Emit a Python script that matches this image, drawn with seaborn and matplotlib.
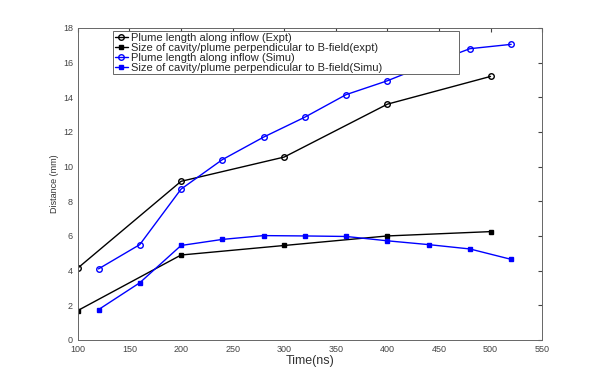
import matplotlib
matplotlib.use("Agg")
import matplotlib.pyplot as plt
import pandas as pd
import seaborn as sns

# experiment
expt_time = [100, 200, 300, 400, 500]
expt_plume = [4.15, 9.15, 10.55, 13.6, 15.2]
expt_cavity = [1.7, 4.9, 5.45, 6.0, 6.25]

# simulation
simu_time = [120, 160, 200, 240, 280, 320, 360, 400, 440, 480, 520]
simu_plume = [4.1, 5.5, 8.7, 10.4, 11.7, 12.85, 14.15, 14.95, 15.9, 16.8, 17.05]
simu_cavity = [1.75, 3.3, 5.45, 5.8, 6.02, 6.0, 5.97, 5.72, 5.5, 5.25, 4.65]

labels = [
    "Plume length along inflow (Expt)",
    "Size of cavity/plume perpendicular to B-field(expt)",
    "Plume length along inflow (Simu)",
    "Size of cavity/plume perpendicular to B-field(Simu)",
]

frames = [
    pd.DataFrame({"time": expt_time, "dist": expt_plume, "series": labels[0]}),
    pd.DataFrame({"time": expt_time, "dist": expt_cavity, "series": labels[1]}),
    pd.DataFrame({"time": simu_time, "dist": simu_plume, "series": labels[2]}),
    pd.DataFrame({"time": simu_time, "dist": simu_cavity, "series": labels[3]}),
]
data = pd.concat(frames, ignore_index=True)

sns.set_style("white")
plt.rcParams["font.family"] = ["Liberation Sans", "DejaVu Sans"]

fig = plt.figure(figsize=(5.99, 3.82), dpi=100)
ax = fig.add_axes([0.130, 0.110, 0.775, 0.817])

styles = {
    labels[0]: ("black", "o", "none"),
    labels[1]: ("black", "s", "black"),
    labels[2]: ("blue", "o", "none"),
    labels[3]: ("blue", "s", "blue"),
}
for name, (color, marker, face) in styles.items():
    sub = data[data["series"] == name]
    sns.lineplot(
        data=sub, x="time", y="dist", ax=ax, color=color, marker=marker,
        markersize=4 if marker == "o" else 3.5, markerfacecolor=face,
        markeredgecolor=color, markeredgewidth=1.0, linewidth=1.0, label=name,
    )

ax.set_xlim(100, 550)
ax.set_ylim(0, 18)
ax.set_xticks(range(100, 551, 50))
ax.set_yticks(range(0, 19, 2))
ax.tick_params(direction="in", length=3, labelsize=6.5, colors="#444444",
               top=True, right=True)
for spine in ax.spines.values():
    spine.set_color("#666666")
    spine.set_linewidth(0.7)
ax.set_xlabel("Time(ns)", fontsize=9, labelpad=1, color="#333333")
ax.set_ylabel("Distance (mm)", fontsize=6.5, labelpad=3, color="#333333")

leg = ax.legend(loc="upper left", bbox_to_anchor=(0.0754, 0.0, 0.746, 0.99),
                mode="expand", fontsize=8, frameon=True, fancybox=False,
                handlelength=1.2, handletextpad=0.3, borderpad=0.15,
                labelspacing=0.0, borderaxespad=0)
leg.get_frame().set_edgecolor("#666666")
leg.get_frame().set_linewidth(0.7)
leg.get_frame().set_alpha(1)

fig.savefig("out.png", dpi=100)
